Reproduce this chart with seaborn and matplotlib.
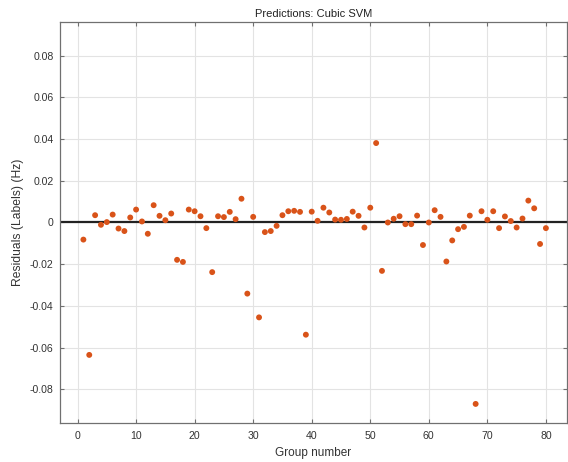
import matplotlib
matplotlib.use("Agg")
import matplotlib.pyplot as plt
import pandas as pd
import seaborn as sns

# residuals per group
groups = list(range(1, 81))
residuals = [
    -0.0082, -0.0635, 0.0035, -0.0011, 0.0002, 0.0038, -0.0029, -0.0041, 0.0024, 0.0062,
    0.0005, -0.0054, 0.0083, 0.0032, 0.0011, 0.0043, -0.0179, -0.0189, 0.0062, 0.0054,
    0.0030, -0.0027, -0.0238, 0.0030, 0.0026, 0.0051, 0.0016, 0.0114, -0.0341, 0.0027,
    -0.0455, -0.0046, -0.0041, -0.0016, 0.0035, 0.0054, 0.0056, 0.0051, -0.0538, 0.0052,
    0.0008, 0.0071, 0.0048, 0.0014, 0.0013, 0.0017, 0.0052, 0.0032, -0.0024, 0.0071,
    0.0381, -0.0232, 0.0000, 0.0018, 0.0030, -0.0008, -0.0008, 0.0033, -0.0108, 0.0000,
    0.0059, 0.0027, -0.0187, -0.0086, -0.0032, -0.0021, 0.0033, -0.0870, 0.0054, 0.0013,
    0.0054, -0.0027, 0.0029, 0.0007, -0.0024, 0.0019, 0.0105, 0.0068, -0.0103, -0.0027,
]
x_ticks = [0, 10, 20, 30, 40, 50, 60, 70, 80]
y_ticks = [-0.08, -0.06, -0.04, -0.02, 0, 0.02, 0.04, 0.06, 0.08]

sns.set_style("whitegrid")
plt.rcParams["font.family"] = ["Liberation Sans", "DejaVu Sans"]
plt.rcParams["axes.unicode_minus"] = False

df = pd.DataFrame({"group": groups, "residual": residuals})

fig = plt.figure(figsize=(5.68, 4.62), dpi=100)
ax = fig.add_axes([0.1056, 0.0851, 0.8926, 0.8666])

ax.axhline(0, color="#222222", linewidth=1.6, zorder=2)
sns.scatterplot(data=df, x="group", y="residual", ax=ax, color="#D95319",
                s=18, edgecolor="none", zorder=3)

ax.set_xlim(-3, 83.6)
ax.set_ylim(-0.096, 0.096)
ax.set_xticks(x_ticks)
ax.set_yticks(y_ticks)
ax.set_yticklabels(["0" if v == 0 else f"{v:.2f}" for v in y_ticks])

ax.grid(True, color="#e3e3e3", linewidth=0.8)
for side in ax.spines.values():
    side.set_color("#707070")
    side.set_linewidth(0.9)
ax.tick_params(direction="in", length=3, width=0.8, color="#707070",
               labelsize=7.6, labelcolor="#333333", top=True, right=True,
               bottom=True, left=True)
ax.tick_params(axis="x", pad=6)
ax.tick_params(axis="y", pad=4.5)

ax.set_xlabel("Group number", fontsize=8.5, color="#333333", labelpad=4.5)
ax.set_ylabel("Residuals (Labels) (Hz)", fontsize=8.7, color="#333333", labelpad=4)
ax.set_title("Predictions: Cubic SVM", fontsize=8, color="#222222", pad=4)

fig.savefig("out.png", dpi=100)
